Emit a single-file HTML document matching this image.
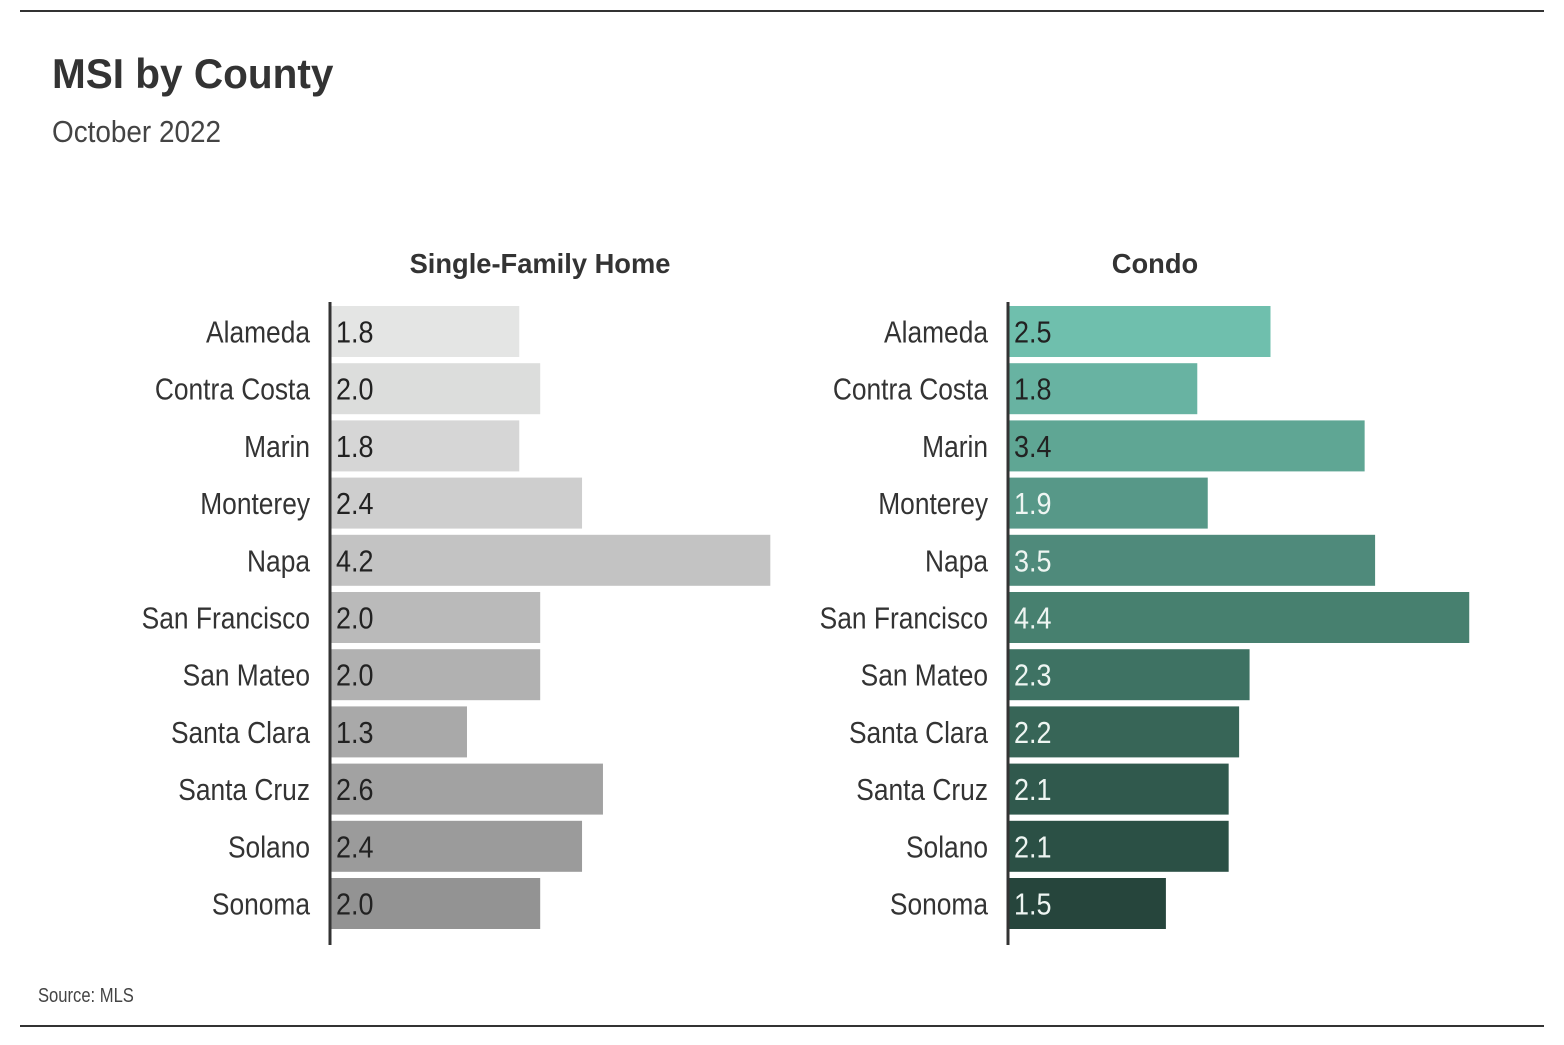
<!DOCTYPE html>
<html><head><meta charset="utf-8"><style>
body{margin:0;background:#fff}
svg text{font-family:"Liberation Sans Narrow","Liberation Sans",sans-serif}
</style></head><body>
<svg width="1564" height="1040" xmlns="http://www.w3.org/2000/svg">
<line x1="20" y1="11" x2="1544" y2="11" stroke="#333" stroke-width="2"/>
<line x1="20" y1="1026" x2="1544" y2="1026" stroke="#333" stroke-width="2"/>
<text transform="translate(52,88) scale(0.965,1)" font-size="42" font-weight="bold" fill="#333">MSI by County</text>
<text transform="translate(52,142) scale(0.9,1)" font-size="31" fill="#444">October 2022</text>
<text transform="translate(540,273) scale(0.975,1)" font-size="28" font-weight="bold" fill="#333" text-anchor="middle">Single-Family Home</text>
<text transform="translate(1155,273) scale(0.975,1)" font-size="28" font-weight="bold" fill="#333" text-anchor="middle">Condo</text>
<text transform="translate(38,1002) scale(0.83,1)" font-size="20" fill="#444">Source: MLS</text>
<g id="panels"></g>
</svg>
<script>
const counties=["Alameda","Contra Costa","Marin","Monterey","Napa","San Francisco","San Mateo","Santa Clara","Santa Cruz","Solano","Sonoma"];
const sfhValues=[1.8,2.0,1.8,2.4,4.2,2.0,2.0,1.3,2.6,2.4,2.0];
const condoValues=[2.5,1.8,3.4,1.9,3.5,4.4,2.3,2.2,2.1,2.1,1.5];
const sfhColors=["#e4e5e4","#dcdddc","#d6d6d6","#cecece","#c3c3c3","#bababa","#b1b1b1","#a9a9a9","#a2a2a2","#9b9b9b","#939393"];
const condoColors=["#6fbfad","#68b3a2","#5fa694","#579888","#4f8a7b","#47806f","#3e7263","#376557","#30594d","#2b5045","#26453c"];
const NS="http://www.w3.org/2000/svg";
const g=document.getElementById("panels");
const unit=104.6, rowTop=306, step=57.2, barH=51;
function xScale(v){return v*unit;}
function yScale(i){return rowTop+i*step;}
function mk(tag,attrs){const e=document.createElementNS(NS,tag);for(const k in attrs)e.setAttribute(k,attrs[k]);return e;}
function panel(x0,vals,cols,prefix,lightFrom){
  vals.forEach((v,i)=>{
    const y=yScale(i);
    const r=mk("rect",{x:x0+1,y:y,width:xScale(v),height:barH,fill:cols[i]});
    
    
    g.appendChild(r);
    const t=mk("text",{transform:"translate("+(x0+6)+","+(y+barH/2+11)+") scale(0.87,1)","font-size":31,fill:(lightFrom>=0&&i>=lightFrom)?"#eef5f2":"#222"});
    t.textContent=v.toFixed(1);
    
    
    g.appendChild(t);
    const l=mk("text",{transform:"translate("+(x0-20)+","+(y+barH/2+11)+") scale(0.85,1)","font-size":31,fill:"#333","text-anchor":"end"});
    l.textContent=counties[i];
    
    
    g.appendChild(l);
  });
  const ax=mk("line",{x1:x0,y1:302,x2:x0,y2:945,stroke:"#333","stroke-width":3});
  
  
  g.appendChild(ax);
}
panel(330,sfhValues,sfhColors,'sfh',-1);
panel(1008,condoValues,condoColors,'condo',3);
</script>
</body></html>
